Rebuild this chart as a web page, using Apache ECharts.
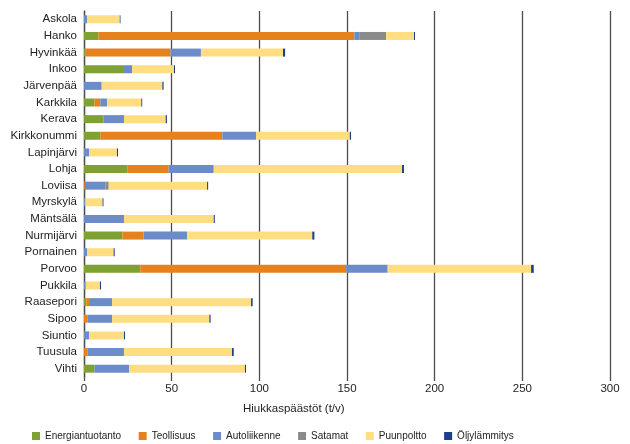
<!DOCTYPE html>
<html>
<head>
<meta charset="utf-8">
<script src="https://cdn.jsdelivr.net/npm/echarts@6/dist/echarts.min.js"></script>
<style>
  html, body { margin: 0; padding: 0; background: #fff; }
  #chart { width: 630px; height: 444px; }
</style>
</head>
<body>
<div id="chart"></div>
<script>
// kunnat ylhäältä alas
const kunnat = ['Askola', 'Hanko', 'Hyvinkää', 'Inkoo', 'Järvenpää', 'Karkkila', 'Kerava',
    'Kirkkonummi', 'Lapinjärvi', 'Lohja', 'Loviisa', 'Myrskylä', 'Mäntsälä', 'Nurmijärvi',
    'Pornainen', 'Porvoo', 'Pukkila', 'Raasepori', 'Sipoo', 'Siuntio', 'Tuusula', 'Vihti']

const energiantuotanto = [0, 8.2, 1, 22.8, 0, 5.9, 11.2, 9.3, 0, 24.7, 0, 0, 0, 21.9, 0, 32.1, 0, 1.3, 0, 0, 0, 5.9]
const teollisuus = [0, 146, 48.3, 0, 0, 3.4, 0, 69.6, 0, 23.6, 0.5, 0, 0, 12.1, 0, 117.4, 0, 1.6, 1.9, 0, 1.9, 0]
const autoliikenne = [1.7, 3.1, 17.4, 4.6, 10.1, 3.8, 11.6, 19.2, 2.9, 25.7, 11.7, 0.8, 22.8, 24.8, 1.7, 23.7, 1, 13.1, 14.1, 2.9, 20.9, 19.8]
const satamat = [0, 15, 0, 0, 0, 0, 0, 0, 0, 0, 1.9, 0, 0, 0, 0, 0, 0, 0, 0, 0, 0, 0]
const puunpoltto = [18.7, 15.9, 46.8, 23.9, 34.6, 19.6, 23.8, 53.5, 15.9, 107.4, 56.1, 9.8, 51.2, 71.4, 15.2, 81.8, 8.1, 79.3, 55.5, 19.9, 61.6, 66.1]
const oljylammitys = [0.4, 0.6, 1.2, 0.6, 0.7, 0.5, 0.7, 0.7, 0.6, 1.1, 0.6, 0.5, 0.6, 1.2, 0.6, 1.5, 0.6, 0.9, 0.7, 0.6, 1.0, 0.6]

const xMin = 0
const xMax = 300
const xStep = 50

const sarjat = [
    { name: 'Energiantuotanto', data: energiantuotanto, color: '#7fa033' },
    { name: 'Teollisuus', data: teollisuus, color: '#e6821e' },
    { name: 'Autoliikenne', data: autoliikenne, color: '#6b8cc8' },
    { name: 'Satamat', data: satamat, color: '#8a8a8a' },
    { name: 'Puunpoltto', data: puunpoltto, color: '#ffdd80' },
    { name: 'Öljylämmitys', data: oljylammitys, color: '#1c3f8c' }
]

const fontti = 'Liberation Sans'

let chart = echarts.init(document.getElementById('chart'))
chart.setOption({
    animation: false,
    textStyle: { fontFamily: fontti },
    color: sarjat.map(s => s.color),
    grid: {
        left: 84,
        right: 20,
        top: 11,
        bottom: 67
    },
    legend: {
        left: 27,
        top: 426,
        itemWidth: 8,
        itemHeight: 8,
        itemGap: 17.5,
        icon: 'rect',
        textStyle: { fontSize: 10, color: '#222', fontFamily: fontti },
        data: sarjat.map(s => s.name)
    },
    xAxis: {
        type: 'value',
        min: xMin,
        max: xMax,
        interval: xStep,
        axisLine: { show: false },
        axisTick: { show: true, length: 4, lineStyle: { color: '#4d4d4d', width: 1.3 } },
        splitLine: { lineStyle: { color: '#4d4d4d', width: 1.3 } },
        axisLabel: { fontSize: 11.5, color: '#222', margin: 6, fontFamily: fontti }
    },
    yAxis: {
        type: 'category',
        inverse: true,
        data: kunnat,
        axisLine: { show: true, lineStyle: { color: '#4d4d4d', width: 1.3 } },
        axisTick: { show: false },
        axisLabel: { fontSize: 11.5, color: '#222', margin: 7, fontFamily: fontti }
    },
    graphic: [{
        type: 'text',
        left: 243,
        top: 403,
        style: {
            text: 'Hiukkaspäästöt (t/v)',
            fontSize: 11.5,
            fontFamily: fontti,
            fill: '#222'
        }
    }],
    series: sarjat.map(s => ({
        name: s.name,
        type: 'bar',
        stack: 'yht',
        barWidth: 8,
        data: s.data
    }))
})
</script>
</body>
</html>
